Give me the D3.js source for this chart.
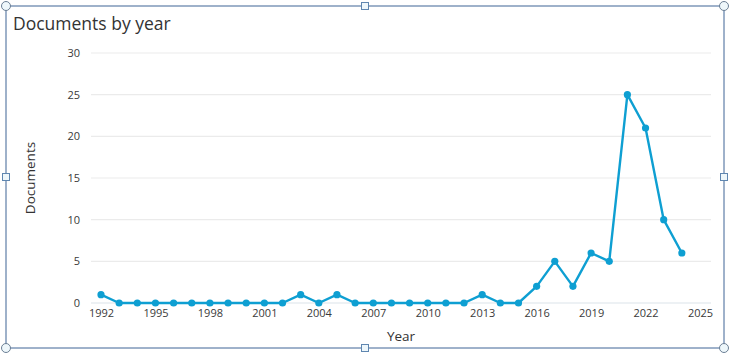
<!DOCTYPE html>
<html>
<head>
<meta charset="utf-8">
<script src="https://cdn.jsdelivr.net/npm/d3@7"></script>
<style>
	body { margin: 0; background: #fff; }
	svg { font-family: "Open Sans", "Noto Sans", sans-serif; }
</style>
</head>
<body>
<svg id="svg_chart" width="731" height="354"></svg>
<script>
// values
var years = d3.range(1992, 2025);
var docs = [1, 0, 0, 0, 0, 0, 0, 0, 0, 0, 0, 1, 0, 1, 0, 0, 0, 0, 0, 0, 0, 1, 0, 0,
	2, 5, 2, 6, 5, 25, 21, 10, 6];
var yTicks = [0, 5, 10, 15, 20, 25, 30];
var xTicks = d3.range(1992, 2026, 3);

var svg = d3.select("#svg_chart"),
	width = +svg.attr("width"),
	height = +svg.attr("height");

var data = years.map(function(y, i) {
	return { "year": y, "value": docs[i] };
});

var x = d3.scaleLinear().domain([1992, 2025]).range([101, 700]);
var y = d3.scaleLinear().domain([0, 30]).range([303, 53]);

// gridlines
svg.append("g").selectAll("line").data(yTicks).enter()
	.append("line")
	.attr("x1", 91).attr("x2", 711)
	.attr("y1", function(d) { return y(d); })
	.attr("y2", function(d) { return y(d); })
	.attr("stroke", function(d) { return d == 0 ? "#dbe3ea" : "#ebebeb"; })
	.attr("stroke-width", 1.2);

var yAxis = svg.append("g")
	.attr("transform", "translate(80,0)")
	.call(d3.axisLeft(y).tickValues(yTicks).tickSize(0).tickPadding(0));
yAxis.select(".domain").remove();
yAxis.selectAll("text").attr("font-size", 11).attr("fill", "#3a3a3a")
	.attr("font-family", "Open Sans, sans-serif");

var xAxis = svg.append("g")
	.attr("transform", "translate(0,309)")
	.call(d3.axisBottom(x).tickValues(xTicks).tickFormat(d3.format("d")).tickSize(0).tickPadding(0));
xAxis.select(".domain").remove();
xAxis.selectAll("text").attr("font-size", 11).attr("fill", "#3a3a3a")
	.attr("font-family", "Open Sans, sans-serif");

// axis titles
svg.append("text").attr("x", 401).attr("y", 341)
	.attr("text-anchor", "middle").attr("font-size", 13.5).attr("fill", "#333")
	.text("Year");
svg.append("text")
	.attr("transform", "translate(35,178) rotate(-90)")
	.attr("text-anchor", "middle").attr("font-size", 13.5).attr("fill", "#333")
	.text("Documents");

// title
svg.append("text").attr("x", 13).attr("y", 30)
	.attr("font-size", 17.5).attr("fill", "#333")
	.text("Documents by year");

// series
var line = d3.line()
	.x(function(d) { return x(d.year); })
	.y(function(d) { return y(d.value); });
svg.append("path").datum(data)
	.attr("d", line)
	.attr("fill", "none")
	.attr("stroke", "#0e9fd2")
	.attr("stroke-width", 2.4)
	.attr("stroke-linejoin", "round");
svg.append("g").selectAll("circle").data(data).enter()
	.append("circle")
	.attr("cx", function(d) { return x(d.year); })
	.attr("cy", function(d) { return y(d.value); })
	.attr("r", 3.6)
	.attr("fill", "#0e9fd2");

// selection frame with handles
var frame = { left: 6, top: 6, right: 724, bottom: 348 };
svg.append("rect")
	.attr("x", frame.left).attr("y", frame.top)
	.attr("width", frame.right - frame.left).attr("height", frame.bottom - frame.top)
	.attr("fill", "none").attr("stroke", "#3f6596").attr("stroke-width", 1);
var midX = (frame.left + frame.right) / 2, midY = (frame.top + frame.bottom) / 2;
var corners = [[frame.left, frame.top], [frame.right, frame.top], [frame.left, frame.bottom], [frame.right, frame.bottom]];
var mids = [[midX, frame.top], [midX, frame.bottom], [frame.left, midY], [frame.right, midY]];
svg.append("g").selectAll("circle").data(corners).enter()
	.append("circle")
	.attr("cx", function(d) { return d[0]; })
	.attr("cy", function(d) { return d[1]; })
	.attr("r", 4.5)
	.attr("fill", "#eef7fb").attr("stroke", "#6b7f95").attr("stroke-width", 1);
svg.append("g").selectAll("rect").data(mids).enter()
	.append("rect")
	.attr("x", function(d) { return d[0] - 3.5; })
	.attr("y", function(d) { return d[1] - 3.5; })
	.attr("width", 7).attr("height", 7)
	.attr("fill", "#eef7fb").attr("stroke", "#5f86b0").attr("stroke-width", 1);
</script>
</body>
</html>
